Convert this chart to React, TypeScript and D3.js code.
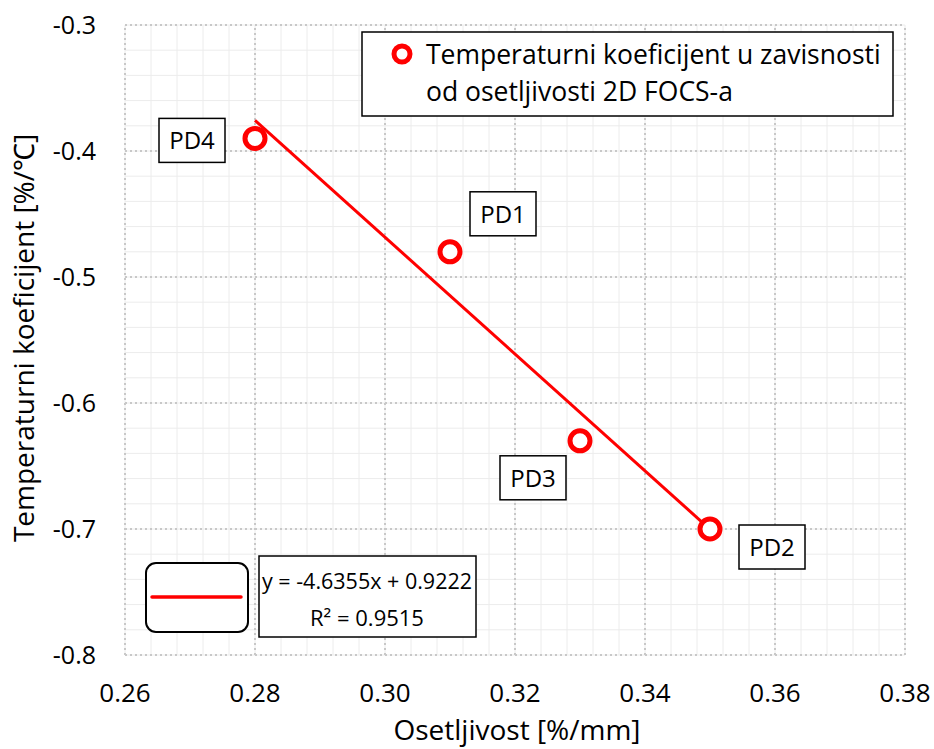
import { useEffect, useRef } from 'react';
import * as d3 from 'd3';

const pointLabels = ['PD4', 'PD1', 'PD3', 'PD2'];
const sensitivity = [0.28, 0.31, 0.33, 0.35];
const tempCoef = [-0.39, -0.48, -0.63, -0.7];
const xTicks = [0.26, 0.28, 0.3, 0.32, 0.34, 0.36, 0.38];
const yTicks = [-0.3, -0.4, -0.5, -0.6, -0.7, -0.8];
const slope = -4.6355;
const intercept = 0.9222;
const rSquared = 0.9515;

const W = 934;
const H = 749;
const FONT = '"Open Sans", sans-serif';

export default function App() {
  const ref = useRef<SVGSVGElement>(null);

  useEffect(() => {
    if (!ref.current) return;
    const svg = d3.select(ref.current);
    svg.selectAll('*').remove();

    const x = d3.scaleLinear().domain([0.26, 0.38]).range([125, 905]);
    const y = d3.scaleLinear().domain([-0.8, -0.3]).range([655, 25]);
    const hy = (v: number, f: string) => d3.format(f)(v).replace('−', '-');

    const g = svg.append('g');

    // minor grid
    const xMinor = d3.range(0, 31).map(i => 0.26 + i * 0.004);
    const yMinor = d3.range(0, 26).map(i => -0.8 + i * 0.02);
    g.selectAll('.xm').data(xMinor).join('line')
      .attr('x1', d => x(d)).attr('x2', d => x(d))
      .attr('y1', y(-0.8)).attr('y2', y(-0.3))
      .attr('stroke', '#ececec').attr('stroke-width', 1);
    g.selectAll('.ym').data(yMinor).join('line')
      .attr('y1', d => y(d)).attr('y2', d => y(d))
      .attr('x1', x(0.26)).attr('x2', x(0.38))
      .attr('stroke', '#ececec').attr('stroke-width', 1);

    // major grid (dotted)
    g.selectAll('.xM').data(xTicks).join('line')
      .attr('x1', d => x(d)).attr('x2', d => x(d))
      .attr('y1', y(-0.8)).attr('y2', y(-0.3))
      .attr('stroke', '#c8c8c8').attr('stroke-width', 2).attr('stroke-dasharray', '2,3');
    g.selectAll('.yM').data(yTicks).join('line')
      .attr('y1', d => y(d)).attr('y2', d => y(d))
      .attr('x1', x(0.26)).attr('x2', x(0.38))
      .attr('stroke', '#c8c8c8').attr('stroke-width', 2).attr('stroke-dasharray', '2,3');

    // tick labels
    g.selectAll('.xt').data(xTicks).join('text')
      .attr('x', d => x(d)).attr('y', 702)
      .attr('text-anchor', 'middle')
      .attr('font-family', FONT).attr('font-size', 26).attr('fill', '#000')
      .text(d => hy(d, '.2f'));
    g.selectAll('.yt').data(yTicks).join('text')
      .attr('x', 96).attr('y', d => y(d) + 9)
      .attr('text-anchor', 'end')
      .attr('font-family', FONT).attr('font-size', 25).attr('fill', '#000')
      .text(d => hy(d, '.1f'));

    // axis titles
    g.append('text')
      .attr('x', 517).attr('y', 740)
      .attr('text-anchor', 'middle')
      .attr('font-family', FONT).attr('font-size', 28)
      .text('Osetljivost [%/mm]');
    g.append('text')
      .attr('transform', `translate(34, ${338}) rotate(-90)`)
      .attr('text-anchor', 'middle')
      .attr('font-family', FONT).attr('font-size', 28)
      .text('Temperaturni koeficijent [%/℃]');

    // trend line
    const xr = d3.extent(sensitivity) as [number, number];
    g.append('line')
      .attr('x1', x(xr[0])).attr('y1', y(slope * xr[0] + intercept))
      .attr('x2', x(xr[1])).attr('y2', y(slope * xr[1] + intercept))
      .attr('stroke', '#ff0000').attr('stroke-width', 3);

    // points
    g.selectAll('.pt').data(sensitivity).join('circle')
      .attr('cx', d => x(d)).attr('cy', (_, i) => y(tempCoef[i]))
      .attr('r', 10)
      .attr('fill', 'white').attr('stroke', '#ff0000').attr('stroke-width', 5);

    // point labels
    const offsets = [[-63, 2], [53, -38], [-47, 37], [62, 18]];
    pointLabels.forEach((lbl, i) => {
      const cx = x(sensitivity[i]) + offsets[i][0];
      const cy = y(tempCoef[i]) + offsets[i][1];
      g.append('rect')
        .attr('x', cx - 33).attr('y', cy - 22).attr('width', 66).attr('height', 44)
        .attr('fill', 'white').attr('stroke', '#000').attr('stroke-width', 1.5);
      g.append('text')
        .attr('x', cx).attr('y', cy + 9)
        .attr('text-anchor', 'middle')
        .attr('font-family', FONT).attr('font-size', 24)
        .text(lbl);
    });

    // legend
    g.append('rect')
      .attr('x', 362).attr('y', 32).attr('width', 531).attr('height', 84)
      .attr('fill', 'white').attr('stroke', '#000').attr('stroke-width', 1.5);
    g.append('circle')
      .attr('cx', 402).attr('cy', 54).attr('r', 8)
      .attr('fill', 'white').attr('stroke', '#ff0000').attr('stroke-width', 5);
    g.append('text')
      .attr('x', 426).attr('y', 64)
      .attr('font-family', FONT).attr('font-size', 26.5)
      .text('Temperaturni koeficijent u zavisnosti');
    g.append('text')
      .attr('x', 426).attr('y', 101)
      .attr('font-family', FONT).attr('font-size', 26.5)
      .text('od osetljivosti 2D FOCS-a');

    // trendline legend
    g.append('rect')
      .attr('x', 146).attr('y', 563).attr('width', 102).attr('height', 69)
      .attr('rx', 10)
      .attr('fill', 'white').attr('stroke', '#000').attr('stroke-width', 2);
    g.append('line')
      .attr('x1', 152).attr('x2', 241).attr('y1', 597).attr('y2', 597)
      .attr('stroke', '#ff0000').attr('stroke-width', 3.5).attr('stroke-linecap', 'round');
    g.append('rect')
      .attr('x', 259).attr('y', 556).attr('width', 217).attr('height', 81)
      .attr('fill', 'white').attr('stroke', '#000').attr('stroke-width', 1.5);
    g.append('text')
      .attr('x', 367).attr('y', 589)
      .attr('text-anchor', 'middle')
      .attr('font-family', FONT).attr('font-size', 21.5)
      .text(`y = ${slope}x + ${intercept}`);
    g.append('text')
      .attr('x', 367).attr('y', 626)
      .attr('text-anchor', 'middle')
      .attr('font-family', FONT).attr('font-size', 22)
      .text(`R² = ${rSquared}`);
  }, []);

  return <svg ref={ref} width={W} height={H} style={{ position: 'absolute', left: 0, top: 0, background: 'white' }} />;
}
